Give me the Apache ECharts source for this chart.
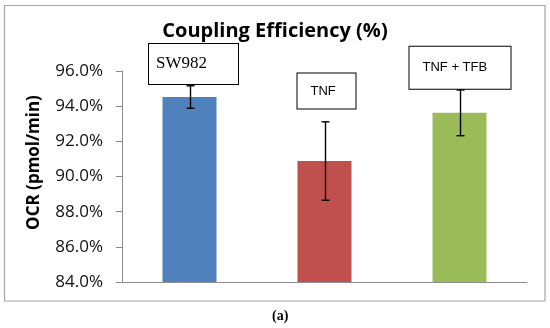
<!DOCTYPE html>
<html>
<head>
<meta charset="utf-8">
<script src="https://cdn.jsdelivr.net/npm/echarts@6/dist/echarts.min.js"></script>
<style>html,body{margin:0;padding:0;background:#fff}#c{width:550px;height:328px}</style>
</head>
<body>
<div id="c"></div>
<script>
const categories = ['SW982', 'TNF', 'TNF + TFB'];
const means = [94.52, 90.88, 93.62];
const errors = [0.64, 2.23, 1.30];
const yTicks = [84, 86, 88, 90, 92, 94, 96];
const colors = ['#4f81bd', '#c0504d', '#9bbb59'];

const labelStyles = [
  {offset: [-40.5, -33], width: 82, height: 40, padding: [0, 0, 0, 7], fontFamily: 'Liberation Serif', fontSize: 17},
  {offset: [-27, -70], width: 45, height: 35, padding: [0, 0, 0, 13], fontFamily: 'Liberation Sans', fontSize: 13},
  {offset: [-50, -45], width: 88, height: 38, padding: [0, 0, 4, 13], fontFamily: 'Liberation Sans', fontSize: 13}
];

const chart = echarts.init(document.getElementById('c'), null, {renderer: 'canvas'});
chart.setOption({
  animation: false,
  title: {
    text: 'Coupling Efficiency (%)',
    left: 'center', top: 16,
    textStyle: {fontFamily: 'Open Sans', fontWeight: 'bold', fontSize: 20, color: '#000'}
  },
  grid: {left: 122, right: 23, top: 71, bottom: 46},
  graphic: [{
    type: 'rect', shape: {x: 4.5, y: 5.5, width: 540.5, height: 295.5},
    style: {fill: 'none', stroke: '#a6a6a6', lineWidth: 1.2}, silent: true, z: -1
  }, {
    type: 'text', left: 272, top: 309,
    style: {text: '(a)', font: 'bold 14px "Liberation Serif"', fill: '#000'}
  }],
  xAxis: {
    type: 'category', data: categories,
    axisLine: {lineStyle: {color: '#8c8c8c', width: 1}},
    axisTick: {show: false}, axisLabel: {show: false}
  },
  yAxis: {
    type: 'value', min: yTicks[0], max: yTicks[yTicks.length - 1], interval: 2,
    name: 'OCR (pmol/min)', nameLocation: 'middle', nameGap: 79,
    nameTextStyle: {fontFamily: 'Open Sans', fontWeight: 'bold', fontSize: 17, color: '#000', padding: [0, 0, 0, 28]},
    axisLine: {show: true, lineStyle: {color: '#8c8c8c'}},
    axisTick: {show: true, length: 6, lineStyle: {color: '#8c8c8c'}},
    splitLine: {show: false},
    axisLabel: {formatter: v => v.toFixed(1) + '%', margin: 19, fontFamily: 'Open Sans', fontSize: 17, color: '#111'}
  },
  series: [{
    type: 'bar', barWidth: 54,
    data: means.map((v, i) => ({
      value: v,
      itemStyle: {color: colors[i]},
      label: Object.assign({
        show: true, position: 'top', distance: 0,
        formatter: categories[i], color: '#000',
        backgroundColor: '#fff', borderColor: '#000', borderWidth: 1,
        align: 'left', verticalAlign: 'middle', lineHeight: 16
      }, labelStyles[i])
    }))
  }, {
    type: 'custom', z: 5,
    data: means.map((m, i) => [i, m - errors[i], m + errors[i]]),
    renderItem: (params, api) => {
      const lo = api.coord([api.value(0), api.value(1)]);
      const hi = api.coord([api.value(0), api.value(2)]);
      const x = Math.round(lo[0]) + 0.5;
      const cap = 4;
      const st = {stroke: '#000', lineWidth: 1.4};
      return {type: 'group', children: [
        {type: 'line', shape: {x1: x, y1: hi[1], x2: x, y2: lo[1]}, style: st},
        {type: 'line', shape: {x1: x - cap, y1: hi[1], x2: x + cap, y2: hi[1]}, style: st},
        {type: 'line', shape: {x1: x - cap, y1: lo[1], x2: x + cap, y2: lo[1]}, style: st}
      ]};
    }
  }]
});
</script>
</body>
</html>
